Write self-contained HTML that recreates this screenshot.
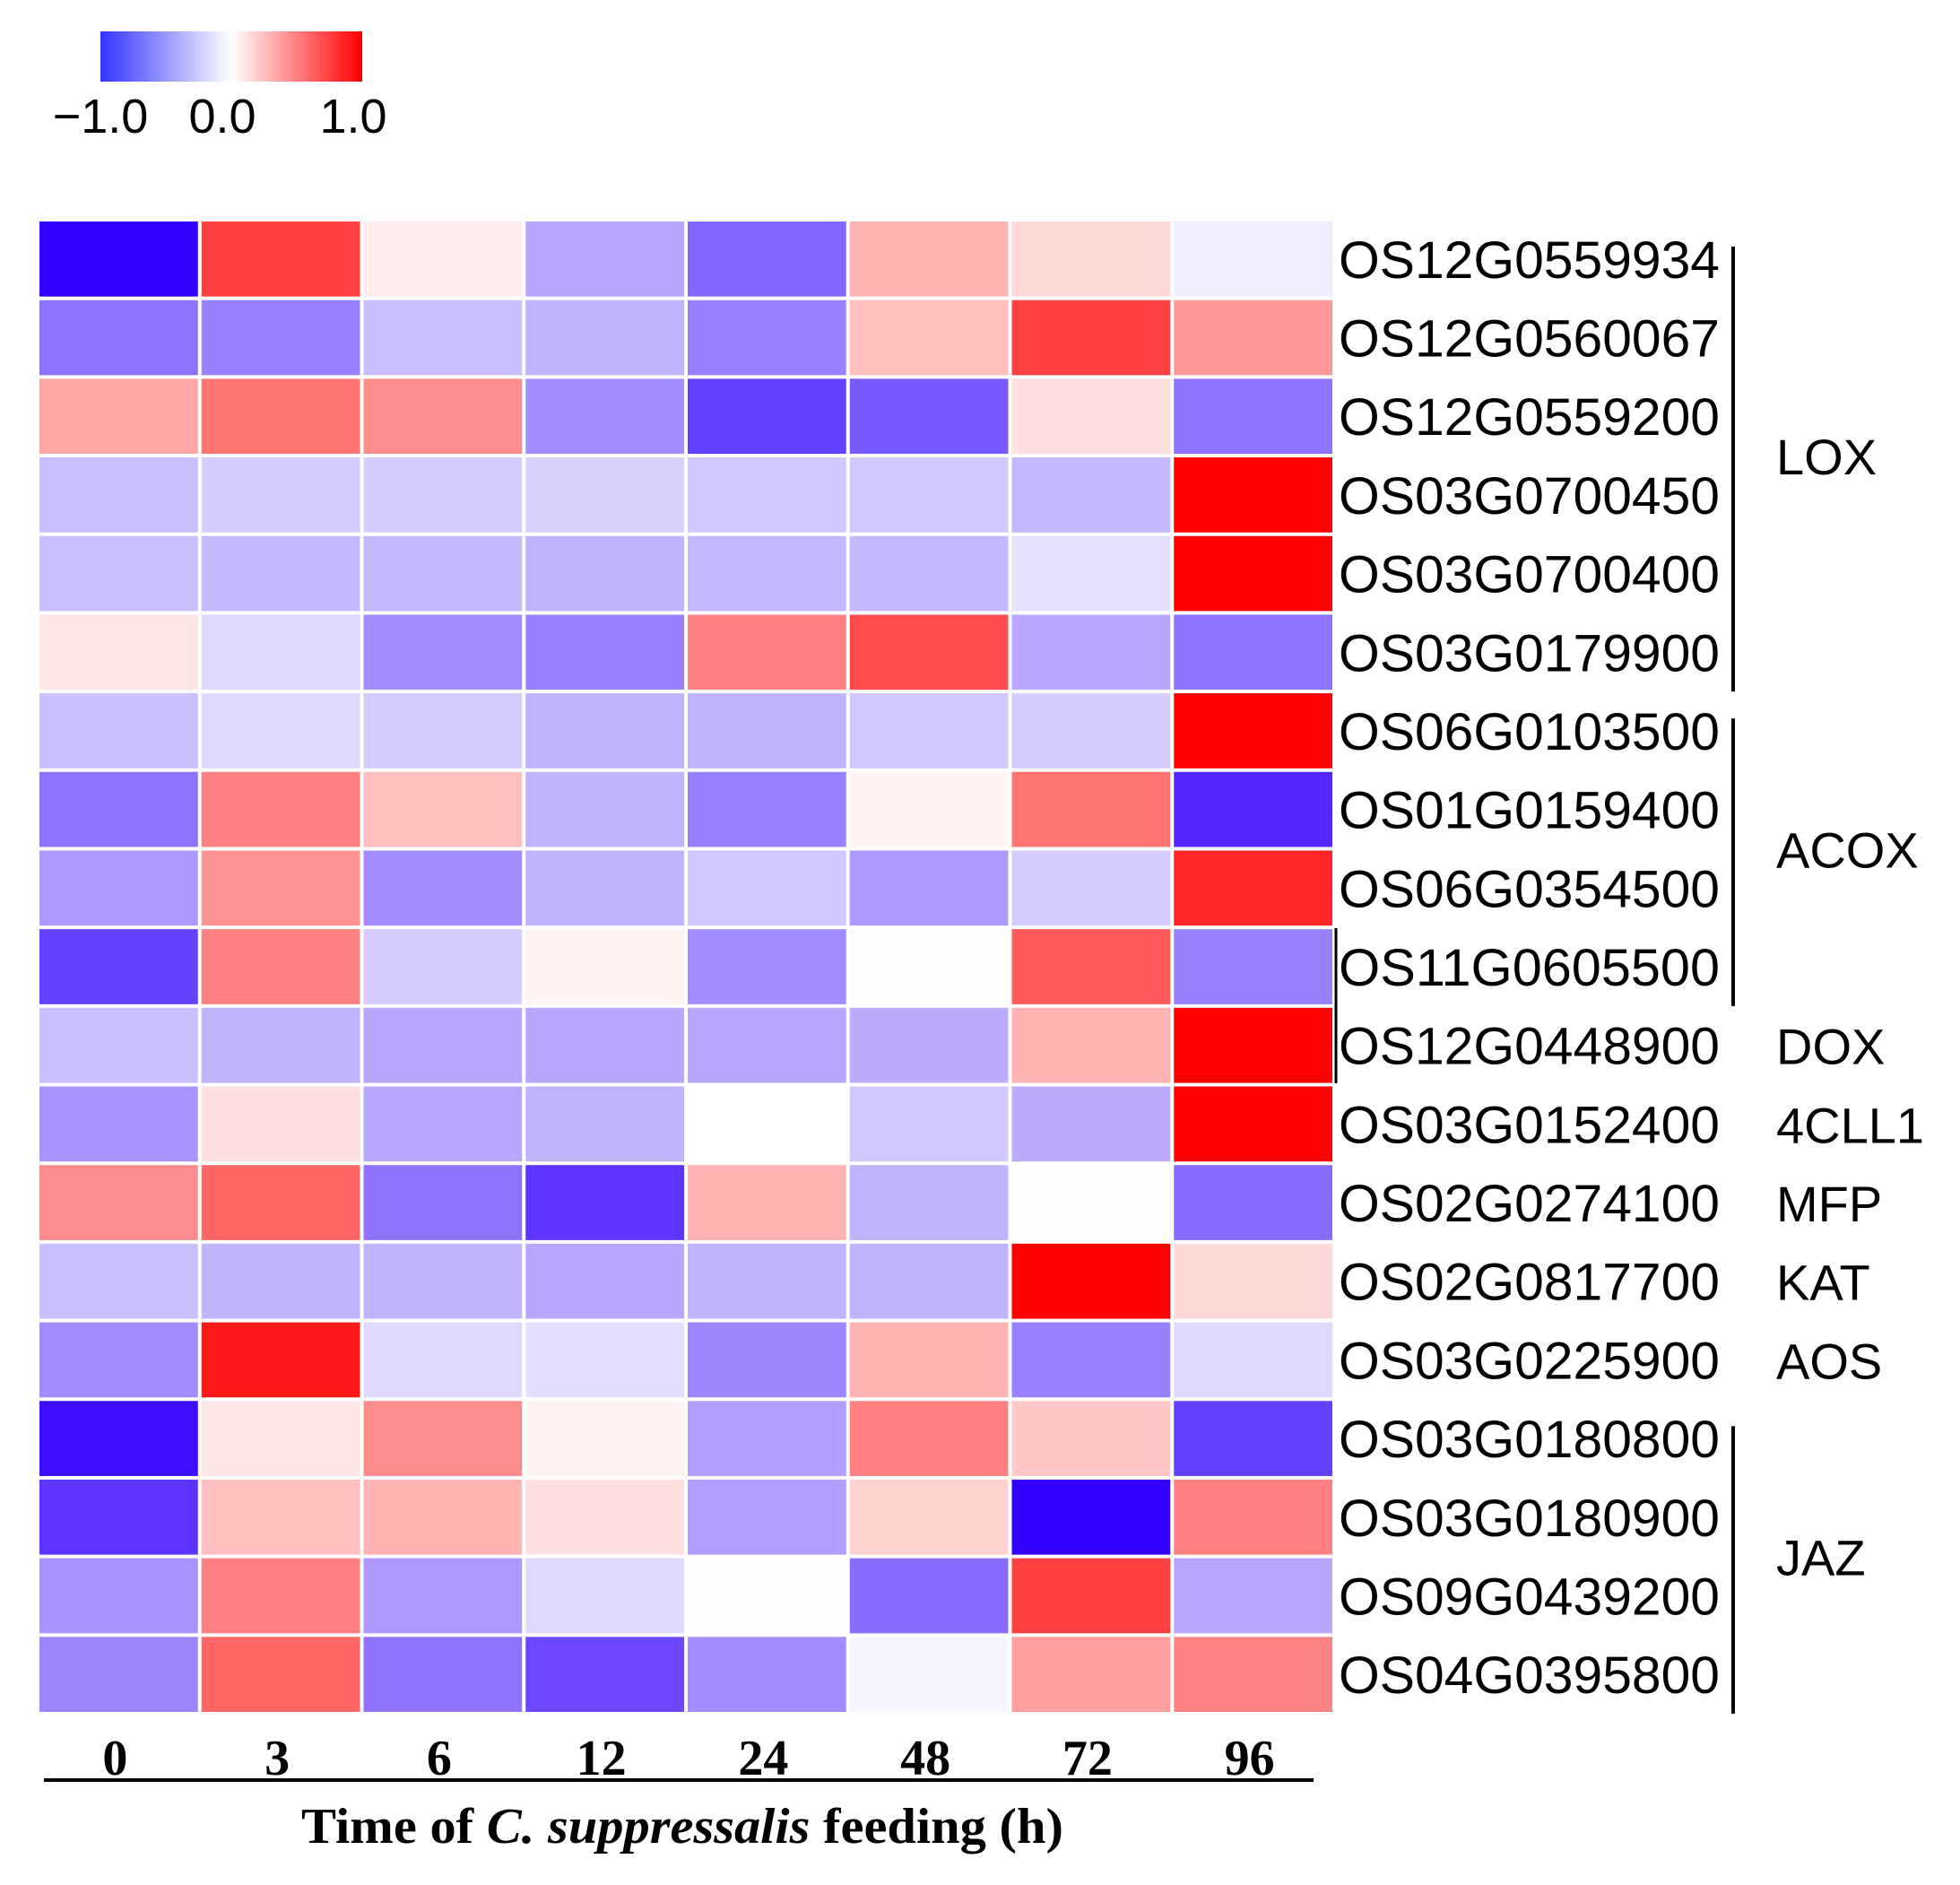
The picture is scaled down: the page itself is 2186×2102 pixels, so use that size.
<!DOCTYPE html>
<html><head><meta charset="utf-8"><style>
html,body{margin:0;padding:0;background:#fff;}
svg{display:block;}
</style></head><body>
<svg id="chart" width="2186" height="2102" xmlns="http://www.w3.org/2000/svg">
<defs><linearGradient id="cbg" x1="0" x2="1" y1="0" y2="0">
<stop offset="0" stop-color="#3333ff"/><stop offset="0.5" stop-color="#ffffff"/><stop offset="1" stop-color="#ff0000"/></linearGradient></defs>
<rect x="112" y="35" width="292" height="56" fill="url(#cbg)"/>
<g font-family="Liberation Sans, Arial, sans-serif" font-size="54" fill="#000">
<text x="112" y="148" text-anchor="middle">−1.0</text>
<text x="248" y="148" text-anchor="middle">0.0</text>
<text x="394" y="148" text-anchor="middle">1.0</text>
</g>
<g id="cells"></g>
<g id="labels"></g>
<line x1="49" x2="1465" y1="1985" y2="1985" stroke="#000" stroke-width="4"/>
<text x="761" y="2055" text-anchor="middle" font-family="Liberation Serif, serif" font-weight="bold" font-size="56" textLength="850" lengthAdjust="spacingAndGlyphs">Time  of <tspan font-style="italic">C. suppressalis</tspan> feeding (h)</text>
<line x1="1490" x2="1490" y1="1035" y2="1208" stroke="#000" stroke-width="3"/>
</svg>
<script>
const times = ["0","3","6","12","24","48","72","96"];
const genes = ["OS12G0559934","OS12G0560067","OS12G0559200","OS03G0700450","OS03G0700400","OS03G0179900","OS06G0103500","OS01G0159400","OS06G0354500","OS11G0605500","OS12G0448900","OS03G0152400","OS02G0274100","OS02G0817700","OS03G0225900","OS03G0180800","OS03G0180900","OS09G0439200","OS04G0395800"];
const values = [
[-1.0,0.75,0.07,-0.35,-0.6,0.3,0.15,-0.07],
[-0.55,-0.5,-0.25,-0.3,-0.5,0.25,0.75,0.4],
[0.35,0.55,0.45,-0.45,-0.75,-0.65,0.12,-0.55],
[-0.25,-0.2,-0.2,-0.18,-0.22,-0.22,-0.28,1.0],
[-0.25,-0.28,-0.28,-0.3,-0.28,-0.28,-0.12,1.0],
[0.1,-0.15,-0.45,-0.5,0.5,0.7,-0.35,-0.55],
[-0.25,-0.15,-0.2,-0.3,-0.3,-0.22,-0.2,1.0],
[-0.55,0.5,0.25,-0.3,-0.5,0.04,0.55,-0.85],
[-0.4,0.42,-0.45,-0.3,-0.22,-0.4,-0.2,0.85],
[-0.75,0.5,-0.2,0.04,-0.45,0.01,0.65,-0.5],
[-0.25,-0.3,-0.35,-0.35,-0.35,-0.33,0.3,1.0],
[-0.42,0.12,-0.35,-0.3,0.0,-0.22,-0.33,1.0],
[0.45,0.6,-0.55,-0.8,0.3,-0.3,0.01,-0.58],
[-0.25,-0.3,-0.3,-0.35,-0.3,-0.3,1.0,0.15],
[-0.45,0.9,-0.15,-0.13,-0.48,0.3,-0.5,-0.15],
[-0.95,0.1,0.45,0.04,-0.38,0.5,0.22,-0.75],
[-0.8,0.25,0.3,0.12,-0.38,0.18,-1.0,0.5],
[-0.42,0.5,-0.4,-0.15,0.01,-0.58,0.75,-0.35],
[-0.48,0.6,-0.55,-0.72,-0.45,-0.04,0.38,0.48]
];
const groupNames = ["LOX","ACOX","DOX","4CLL1","MFP","KAT","AOS","JAZ"];
const groupStart = [0,6,10,11,12,13,14,15];
const groupEnd = [5,9,10,11,12,13,14,18];

const NS="http://www.w3.org/2000/svg";
const X0=42, X1=1488, Y0=245, Y1=1911;
const cw=(X1-X0)/times.length, ch=(Y1-Y0)/genes.length;
const xPos=i=>X0+i*cw, yPos=j=>Y0+j*ch;
function color(v){
  v=Math.max(-1,Math.min(1,v));
  let r,g,b;
  if(v<0){const t=-v;r=255-t*204;g=255-t*255;b=255;}
  else{const t=v;r=255;g=255-t*255;b=255-t*255;}
  return `rgb(${Math.round(r)},${Math.round(g)},${Math.round(b)})`;
}
function mk(tag,attrs,parent,text){const e=document.createElementNS(NS,tag);for(const k in attrs)e.setAttribute(k,attrs[k]);if(text!==undefined)e.textContent=text;parent.appendChild(e);return e;}
const cells=document.getElementById('cells'), labels=document.getElementById('labels');
values.forEach((row,j)=>row.forEach((v,i)=>{
  const r=mk('rect',{x:xPos(i)+2,y:yPos(j)+2,width:cw-4,height:ch-4,fill:color(v)},cells);
  
  
}));
genes.forEach((g,j)=>{
  const t=mk('text',{x:1493,y:yPos(j)+ch/2+21,'font-family':'Liberation Sans, Arial, sans-serif','font-size':'58',textLength:'425',lengthAdjust:'spacingAndGlyphs'},labels,g);
  
  
});
times.forEach((tm,i)=>{
  const t=mk('text',{x:xPos(i)+cw/2-4,y:1979,'text-anchor':'middle','font-family':'Liberation Serif, serif','font-weight':'bold','font-size':'56'},labels,tm);
  
  
});
groupNames.forEach((n,k)=>{
  const s=groupStart[k], e=groupEnd[k];
  if(e>s){
    const l=mk('line',{x1:1933,x2:1933,y1:yPos(s)+30,y2:yPos(e+1),stroke:'#000','stroke-width':4},labels);
    
    
  }
  const cy=(yPos(s)+yPos(e+1))/2;
  const t=mk('text',{x:1981,y:cy+21,'font-family':'Liberation Sans, Arial, sans-serif','font-size':'56'},labels,n);
  
  
});
</script>
</body></html>
